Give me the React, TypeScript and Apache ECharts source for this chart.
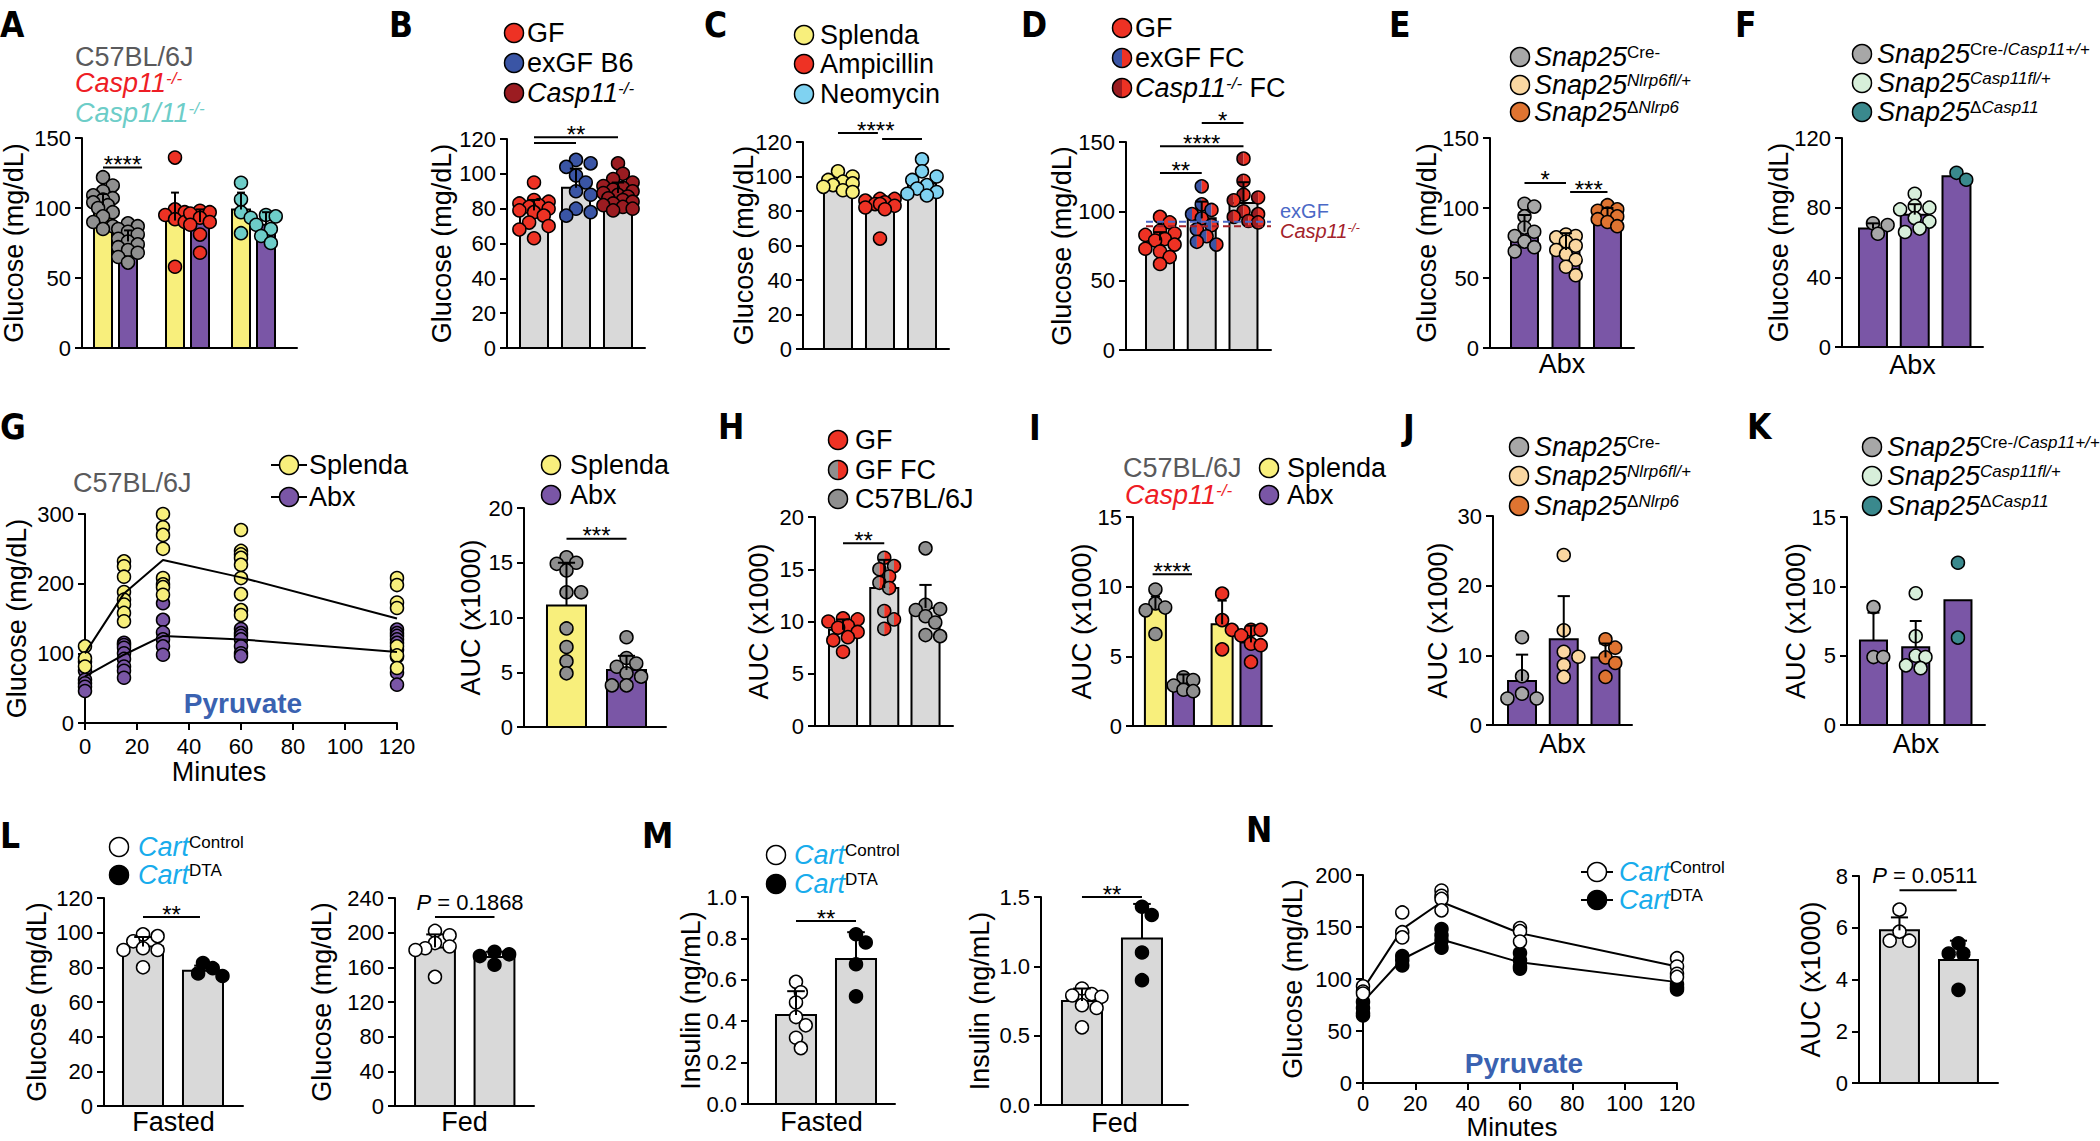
import React, { useEffect, useRef } from "react";
import * as echarts from "echarts";

const FONT = "'Liberation Sans', Arial, Helvetica, sans-serif";
const LETTER_FONT = "'Liberation Sans Narrow', 'DejaVu Sans Condensed', 'Liberation Sans', Arial, sans-serif";

/* ======================= DATA ======================= */
// A
const aLegend = ["C57BL/6J", "{i|Casp11}{si|-/-}", "{i|Casp1/11}{si|-/-}"];
const aMeans = [102, 76, 91, 90, 99, 88];
const aSD = [8, 8, 20, 9, 12, 9];
const aB6Splenda = [122, 116, 112, 109, 107, 106, 104, 102, 100, 97, 94, 90, 87, 85];
const aB6Abx = [89, 87, 85, 83, 81, 78, 76, 74, 72, 70, 68, 65, 61];
const aC11Splenda = [136, 99, 97, 95, 92, 90, 58];
const aC11Abx = [98, 97, 96, 93, 90, 88, 81, 68];
const aC111Splenda = [118, 106, 97, 93, 82];
const aC111Abx = [95, 94, 88, 85, 80, 75];
const aSig = [{ a: 0, b: 1.3, y: 129, t: "****" }];

// B
const bLegend = ["GF", "exGF B6", "{i|Casp11}{si|-/-}"];
const bMeans = [79, 92, 89];
const bSD = [6, 11, 6];
const bGF = [95, 85, 84, 83, 82, 81, 80, 79, 78, 76, 72, 70, 68, 63];
const bExGF = [108, 106, 104, 99, 95, 90, 88, 80, 78, 76];
const bCasp11 = [106, 100, 97, 95, 93, 92, 91, 90, 89, 88, 87, 86, 85, 84, 83, 82, 81, 80, 79];
const bSig = [{ a: 0, b: 2, y: 121, t: "**" }, { a: 0, b: 1, y: 117.7, t: "" }];

// C
const cLegend = ["Splenda", "Ampicillin", "Neomycin"];
const cMeans = [96, 82, 96];
const cSD = [null, null, null];
const cSplenda = [103, 100, 98, 97, 96, 95, 94, 92, 91];
const cAmp = [87, 87, 86, 85, 84, 84, 83, 82, 81, 64];
const cNeo = [110, 103, 100, 98, 95, 93, 91, 90, 89];
const cSig = [{ a: 0, b: 0.95, y: 125.2, t: "****", at: 0.9 }, { a: 1.05, b: 2, y: 121.7, t: "" }];

// D
const dLegend = ["GF", "exGF FC", "{i|Casp11}{si|-/-}{n| FC}"];
const dMeans = [79, 95, 106];
const dSD = [6, 12, 15];
const dGF = [96, 92, 86, 84, 83, 80, 79, 76, 73, 71, 67, 62];
const dExGF = [118, 105, 101, 98, 95, 90, 87, 82, 78, 76];
const dCasp11 = [138, 122, 112, 110, 108, 100, 98, 96, 93, 92];
const dSig = [
  { a: 0, b: 1, y: 127.6, t: "**" },
  { a: 0, b: 2, y: 147, t: "****" },
  { a: 1, b: 2, y: 163.7, t: "*" },
];
const dRefValues = [92.4, 89.3];
const dRefLabels = ["exGF", "{i|Casp11}{si|-/-}"];

// E
const eLegend = ["{i|Snap25}{s|Cre-}", "{i|Snap25}{si|Nlrp6fl/+}", "{i|Snap25}{s|Δ}{si|Nlrp6}"];
const eMeans = [83, 70, 95];
const eSD = [12, 12, 5];
const eCre = [103, 101, 94, 86, 83, 80, 76, 72, 69];
const eHet = [81, 80, 79, 76, 73, 70, 67, 63, 58, 52];
const eKO = [102, 99, 98, 96, 94, 92, 90, 87];
const eSig = [{ a: 0, b: 1, y: 117.9, t: "*" }, { a: 1.1, b: 2, y: 111.4, t: "***" }];

// F
const fLegend = ["{i|Snap25}{s|Cre-/}{si|Casp11+/+}", "{i|Snap25}{si|Casp11fl/+}", "{i|Snap25}{s|Δ}{si|Casp11}"];
const fMeans = [68, 76, 98];
const fSD = [3, 6, null];
const fCre = [71, 70, 65];
const fHet = [88, 81, 80, 79, 74, 72, 68, 66];
const fKO = [100, 96];

// G (pyruvate tolerance, C57BL/6J)
const minutes = [0, 15, 30, 60, 120];
const gLegend = ["Splenda", "Abx"];
const gSplendaMean = [100, 186, 234, 209, 150];
const gAbxMean = [67, 98, 125, 120, 102];
const gSplendaDots = [
  [110, 93, 81],
  [232, 225, 210, 188, 177, 170, 158, 146],
  [300, 281, 270, 250, 208, 199, 195, 184],
  [277, 247, 242, 237, 227, 208, 185, 162, 155],
  [208, 198, 173, 165, 110, 97, 79],
];
const gAbxDots = [
  [88, 75, 62, 57, 52, 46],
  [115, 112, 108, 100, 92, 81, 75, 65],
  [172, 148, 130, 120, 110, 98],
  [135, 129, 125, 120, 110, 100, 96],
  [134, 129, 125, 120, 115, 105, 95, 72, 55],
];
// G AUC
const g2Means = [11.1, 5.2];
const g2SD = [3.9, 1.3];
const g2Splenda = [15.5, 15.0, 14.9, 14.3, 12.3, 12.3, 9.0, 7.3, 6.0, 4.9];
const g2Abx = [8.2, 6.3, 5.8, 5.5, 4.9, 4.6, 3.8, 3.8];
const g2Sig = [{ a: 0, b: 1, y: 17.2, t: "***" }];

// H
const hLegend = ["GF", "GF FC", "C57BL/6J"];
const hMeans = [9.2, 13.2, 11.3];
const hSD = [1.0, 2.7, 2.2];
const hGF = [10.3, 10.2, 10.0, 9.6, 9.4, 9.0, 8.5, 8.2, 7.1];
const hGFFC = [16.1, 15.3, 15.0, 14.3, 13.7, 13.2, 11.0, 10.2, 9.3];
const hB6 = [17.0, 11.6, 11.2, 11.1, 10.5, 9.9, 8.7, 8.6];
const hSig = [{ a: 0, b: 1, y: 17.5, t: "**" }];

// I
const iMeans = [8.4, 3.0, 7.3, 6.0];
const iSD = [0.9, 0.7, 1.7, 1.2];
const iB6Splenda = [9.8, 8.8, 8.5, 8.3, 6.6];
const iB6Abx = [3.5, 3.3, 2.9, 2.6, 2.5];
const iC11Splenda = [9.5, 7.6, 6.9, 5.5];
const iC11Abx = [6.9, 6.9, 6.5, 5.9, 5.8, 4.6];
const iSig = [{ a: -0.1, b: 1.22, y: 10.9, t: "****" }];

// J
const jMeans = [6.3, 12.3, 9.7];
const jSD = [3.8, 6.2, 2.0];
const jCre = [12.6, 7.0, 4.5, 3.8, 3.8];
const jHet = [24.4, 13.6, 10.5, 9.8, 8.6, 6.9];
const jKO = [12.3, 11.1, 9.7, 8.9, 6.9];

// K
const kMeans = [6.1, 5.6, 9.0];
const kSD = [2.0, 1.9, null];
const kCre = [8.5, 4.9, 4.9];
const kHet = [9.5, 6.4, 5.0, 4.9, 4.3, 4.1];
const kKO = [11.7, 6.3];

// L
const cartLegend = ["{c|Cart}{s|Control}", "{c|Cart}{s|DTA}"];
const lFastedMeans = [92, 78];
const lFastedSD = [5.5, 3];
const lFastedCtrl = [99, 98, 95, 91, 90, 90, 80];
const lFastedDTA = [82.5, 79.5, 76.5, 75];
const lFastedSig = [{ a: 0, b: 0.95, y: 109, t: "**" }];
const lFedMeans = [183, 172];
const lFedSD = [15, 6];
const lFedCtrl = [202, 197, 188, 184, 182, 180, 149];
const lFedDTA = [178, 175, 173, 163];
const lFedSig = [{ a: 0, b: 1, y: 218, t: "P = 0.1868", at: 0.59 }];

// M
const mFastedMeans = [0.43, 0.7];
const mFastedSD = [0.115, 0.13];
const mFastedCtrl = [0.59, 0.54, 0.49, 0.42, 0.38, 0.32, 0.27];
const mFastedDTA = [0.82, 0.78, 0.675, 0.52];
const mFastedSig = [{ a: 0, b: 1, y: 0.884, t: "**" }];
const mFedMeans = [0.75, 1.2];
const mFedSD = [0.09, 0.25];
const mFedCtrl = [0.84, 0.8, 0.79, 0.78, 0.72, 0.7, 0.56];
const mFedDTA = [1.43, 1.37, 1.1, 0.9];
const mFedSig = [{ a: 0, b: 1, y: 1.5, t: "**" }];

// N
const nCtrlMean = [90, 148, 174, 144, 112];
const nDTAMean = [78, 119, 138, 116, 97];
const nCtrlDots = [[93, 88, 86], [164, 145, 140], [185, 180, 177, 166], [149, 146, 136], [120, 112, 105, 102]];
const nDTADots = [[78, 72, 67, 65], [122, 118, 113], [148, 142, 137, 130], [125, 118, 112, 110], [95, 92, 90]];
const n2Means = [5.9, 4.75];
const n2SD = [0.5, 0.75];
const n2Ctrl = [6.7, 5.85, 5.5, 5.5];
const n2DTA = [5.4, 5.0, 5.0, 3.6];
const n2Sig = [{ a: 0, b: 0.97, y: 7.45, t: "P = 0.0511", at: 0.43 }];

/* ======================= STYLE ======================= */
const YELLOW = "#f8ef7c";
const PURPLE = "#7a56a6";
const BAR_GRAY = "#d9d9d9";
const DOT_GRAY = "#8f8f8f";
const RED = "#ee3224";
const BLUE = "#3a55a5";
const DARK_RED = "#9b1c21";
const LIGHT_BLUE = "#7fd2f1";
const CYAN = "#6dcdc8";
const SNAP_GRAY = "#a7a7a7";
const PEACH = "#fad7a1";
const ORANGE = "#df7431";
const MINT = "#d7efda";
const TEAL = "#3a898d";
const CART_BLUE = "#18acec";
const PYR_BLUE = "#3a62b1";
const TXT_GRAY = "#5a5a5c";
const CASP_RED = "#ee1d25";
const REF_BLUE = "#4a68c6";
const REF_RED = "#a3222a";
const WHITE = "#ffffff";
const BLACK = "#000000";

const DOT_R = 6.5;
const LEG_R = 9.5;

const barPanels: any[] = [
  { id: "A", box: [82, 138, 215, 210], yMax: 150, yInt: 50, yName: "Glucose (mg/dL)", yGap: 55, xMin: 0, xMax: 8.6,
    xs: [0.84, 1.84, 3.72, 4.72, 6.36, 7.36], bw: 0.72, means: aMeans, sds: aSD,
    fills: [YELLOW, PURPLE, YELLOW, PURPLE, YELLOW, PURPLE],
    dots: [aB6Splenda, aB6Abx, aC11Splenda, aC11Abx, aC111Splenda, aC111Abx],
    dotFills: [DOT_GRAY, DOT_GRAY, RED, RED, CYAN, CYAN], sigs: aSig },
  { id: "B", box: [507, 139, 138, 209], yMax: 120, yInt: 20, yName: "Glucose (mg/dL)", yGap: 52, xMin: 0.357, xMax: 3.643,
    xs: [1, 2, 3], bw: 0.667, means: bMeans, sds: bSD, fills: [BAR_GRAY, BAR_GRAY, BAR_GRAY],
    dots: [bGF, bExGF, bCasp11], dotFills: [RED, BLUE, DARK_RED], sigs: bSig },
  { id: "C", box: [803, 142, 146, 207], yMax: 120, yInt: 20, yName: "Glucose (mg/dL)", yGap: 46, xMin: 0.167, xMax: 3.643,
    xs: [1, 2, 3], bw: 0.667, means: cMeans, sds: cSD, fills: [BAR_GRAY, BAR_GRAY, BAR_GRAY],
    dots: [cSplenda, cAmp, cNeo], dotFills: [YELLOW, RED, LIGHT_BLUE], sigs: cSig },
  { id: "D", box: [1126, 142, 145, 208], yMax: 150, yInt: 50, yName: "Glucose (mg/dL)", yGap: 51, xMin: 0.186, xMax: 3.659,
    xs: [1, 2, 3], bw: 0.67, means: dMeans, sds: dSD, fills: [BAR_GRAY, BAR_GRAY, BAR_GRAY],
    dots: [dGF, dExGF, dCasp11], dotFills: [RED, BLUE, DARK_RED], dotFills2: [null, RED, RED], sigs: dSig },
  { id: "E", box: [1490, 138, 144, 210], yMax: 150, yInt: 50, yName: "Glucose (mg/dL)", yGap: 50, xMin: 0.169, xMax: 3.639,
    xs: [1, 2, 3], bw: 0.65, means: eMeans, sds: eSD, fills: [PURPLE, PURPLE, PURPLE],
    dots: [eCre, eHet, eKO], dotFills: [SNAP_GRAY, PEACH, ORANGE], sigs: eSig, xName: "Abx", xGap: 2 },
  { id: "F", box: [1842, 138, 141, 209], yMax: 120, yInt: 40, yName: "Glucose (mg/dL)", yGap: 50, xMin: 0.258, xMax: 3.635,
    xs: [1, 2, 3], bw: 0.67, means: fMeans, sds: fSD, fills: [PURPLE, PURPLE, PURPLE],
    dots: [fCre, fHet, fKO], dotFills: [SNAP_GRAY, MINT, TEAL], sigs: [], xName: "Abx", xGap: 4 },
  { id: "G2", box: [524, 508, 142, 219], yMax: 20, yInt: 5, yName: "AUC (x1000)", yGap: 40, xMin: 0.292, xMax: 2.658,
    xs: [1, 2], bw: 0.65, means: g2Means, sds: g2SD, fills: [YELLOW, PURPLE],
    dots: [g2Splenda, g2Abx], dotFills: [DOT_GRAY, DOT_GRAY], sigs: g2Sig },
  { id: "H", box: [815, 517, 138, 209], yMax: 20, yInt: 5, yName: "AUC (x1000)", yGap: 43, xMin: 0.321, xMax: 3.666,
    xs: [1, 2, 3], bw: 0.68, means: hMeans, sds: hSD, fills: [BAR_GRAY, BAR_GRAY, BAR_GRAY],
    dots: [hGF, hGFFC, hB6], dotFills: [RED, DOT_GRAY, DOT_GRAY], dotFills2: [null, RED, null], sigs: hSig },
  { id: "I", box: [1133, 517, 139, 209], yMax: 15, yInt: 5, yName: "AUC (x1000)", yGap: 38, xMin: 0, xMax: 4.96,
    xs: [0.8, 1.8, 3.18, 4.21], bw: 0.75, means: iMeans, sds: iSD, fills: [YELLOW, PURPLE, YELLOW, PURPLE],
    dots: [iB6Splenda, iB6Abx, iC11Splenda, iC11Abx], dotFills: [DOT_GRAY, DOT_GRAY, RED, RED], sigs: iSig },
  { id: "J", box: [1493, 516, 139, 209], yMax: 30, yInt: 10, yName: "AUC (x1000)", yGap: 42, xMin: 0.305, xMax: 3.635,
    xs: [1, 2, 3], bw: 0.67, means: jMeans, sds: jSD, fills: [PURPLE, PURPLE, PURPLE],
    dots: [jCre, jHet, jKO], dotFills: [SNAP_GRAY, PEACH, ORANGE], sigs: [], xName: "Abx", xGap: 5 },
  { id: "K", box: [1847, 517, 138, 208], yMax: 15, yInt: 5, yName: "AUC (x1000)", yGap: 38, xMin: 0.373, xMax: 3.64,
    xs: [1, 2, 3], bw: 0.64, means: kMeans, sds: kSD, fills: [PURPLE, PURPLE, PURPLE],
    dots: [kCre, kHet, kKO], dotFills: [SNAP_GRAY, MINT, TEAL], sigs: [], xName: "Abx", xGap: 5 },
  { id: "L1", box: [104, 898, 139, 208], yMax: 120, yInt: 20, yName: "Glucose (mg/dL)", yGap: 54, xMin: 0.35, xMax: 2.667,
    xs: [1, 2], bw: 0.667, means: lFastedMeans, sds: lFastedSD, fills: [BAR_GRAY, BAR_GRAY],
    dots: [lFastedCtrl, lFastedDTA], dotFills: [WHITE, BLACK], sigs: lFastedSig, xName: "Fasted", xGap: 2 },
  { id: "L2", box: [395, 898, 139, 208], yMax: 240, yInt: 40, yName: "Glucose (mg/dL)", yGap: 60, xMin: 0.328, xMax: 2.664,
    xs: [1, 2], bw: 0.67, means: lFedMeans, sds: lFedSD, fills: [BAR_GRAY, BAR_GRAY],
    dots: [lFedCtrl, lFedDTA], dotFills: [WHITE, BLACK], sigs: lFedSig, xName: "Fed", xGap: 2 },
  { id: "M1", box: [748, 897, 147, 207], yMax: 1.0, yInt: 0.2, dec: 1, yName: "Insulin (ng/mL)", yGap: 44, xMin: 0.2, xMax: 2.65,
    xs: [1, 2], bw: 0.667, means: mFastedMeans, sds: mFastedSD, fills: [BAR_GRAY, BAR_GRAY],
    dots: [mFastedCtrl, mFastedDTA], dotFills: [WHITE, BLACK], sigs: mFastedSig, xName: "Fasted", xGap: 4 },
  { id: "M2", box: [1041, 897, 147, 208], yMax: 1.5, yInt: 0.5, dec: 1, yName: "Insulin (ng/mL)", yGap: 48, xMin: 0.317, xMax: 2.767,
    xs: [1, 2], bw: 0.667, means: mFedMeans, sds: mFedSD, fills: [BAR_GRAY, BAR_GRAY],
    dots: [mFedCtrl, mFedDTA], dotFills: [WHITE, BLACK], sigs: mFedSig, xName: "Fed", xGap: 4 },
  { id: "N2", box: [1859, 876, 139, 207], yMax: 8, yInt: 2, yName: "AUC (x1000)", yGap: 35, xMin: 0.314, xMax: 2.67,
    xs: [1, 2], bw: 0.66, means: n2Means, sds: n2SD, fills: [BAR_GRAY, BAR_GRAY],
    dots: [n2Ctrl, n2DTA], dotFills: [WHITE, BLACK], sigs: n2Sig },
];

const linePanels: any[] = [
  { id: "G", box: [85, 514, 312, 209], yMax: 300, yInt: 100, yGap: 55, xGap: 35, lineZ: 6, xNamePad: [0, 44, 0, 0],
    tickMargin: 12, nameSize: 27,
    groups: [
      { mean: gAbxMean, dots: gAbxDots, fill: PURPLE },
      { mean: gSplendaMean, dots: gSplendaDots, fill: YELLOW },
    ] },
  { id: "N", box: [1363, 875, 314, 208], yMax: 200, yInt: 50, yGap: 57, xGap: 31, lineZ: 2, xNamePad: [0, 16, 0, 0],
    tickMargin: 9, nameSize: 26,
    groups: [
      { mean: nDTAMean, dots: nDTADots, fill: BLACK },
      { mean: nCtrlMean, dots: nCtrlDots, fill: WHITE },
    ] },
];

/* ======================= HELPERS ======================= */
const AXIS_LINE = { show: true, onZero: false, lineStyle: { color: "#000", width: 2 } };
const TICK = { show: true, inside: false, length: 7, lineStyle: { color: "#000", width: 2 } };
const NAME_STYLE = { fontSize: 27, color: "#000", fontFamily: FONT };

function richSet(color: string, size = 27, sup = 17) {
  return {
    n: { fontSize: size, fontFamily: FONT, fill: color },
    i: { fontSize: size, fontFamily: FONT, fill: color, fontStyle: "italic" },
    s: { fontSize: sup, fontFamily: FONT, fill: color, verticalAlign: "top" },
    si: { fontSize: sup, fontFamily: FONT, fill: color, fontStyle: "italic", verticalAlign: "top" },
    c: { fontSize: size, fontFamily: FONT, fill: CART_BLUE, fontStyle: "italic" },
    p: { fontSize: 22, fontFamily: FONT, fill: color, fontStyle: "italic" },
    q: { fontSize: 22, fontFamily: FONT, fill: color },
  };
}

function posAt(xs: number[], f: number) {
  const i = Math.max(0, Math.min(Math.floor(f), xs.length - 2));
  return xs[i] + (f - i) * (xs[i + 1] - xs[i]);
}

function dotGfx(cx: number, cy: number, r: number, fill: string, fill2?: string | null) {
  if (fill2) {
    return [
      { type: "sector", shape: { cx, cy, r, r0: 0, startAngle: Math.PI / 2, endAngle: (3 * Math.PI) / 2 }, style: { fill } },
      { type: "sector", shape: { cx, cy, r, r0: 0, startAngle: -Math.PI / 2, endAngle: Math.PI / 2 }, style: { fill: fill2 } },
      { type: "circle", shape: { cx, cy, r }, style: { fill: "none", stroke: "#000", lineWidth: 1.5 } },
    ];
  }
  return [{ type: "circle", shape: { cx, cy, r }, style: { fill, stroke: "#000", lineWidth: 1.5 } }];
}

function swarm(pts: number[][], r: number, maxOff: number) {
  const placed: number[][] = [];
  const minD = r * 1.7;
  const step = r * 0.75;
  for (const p of pts) {
    let best: number[] = [p[0], p[1]];
    let bestScore = -Infinity;
    for (let k = 0; k < 16; k++) {
      const off = k === 0 ? 0 : (k % 2 ? 1 : -1) * Math.ceil(k / 2) * step;
      if (Math.abs(off) > maxOff + 0.01) continue;
      const cx = p[0] + off;
      let dmin = Infinity;
      for (const q of placed) dmin = Math.min(dmin, Math.hypot(q[0] - cx, q[1] - p[1]));
      if (dmin >= minD) { best = [cx, p[1]]; bestScore = Infinity; break; }
      if (dmin > bestScore + 0.5) { bestScore = dmin; best = [cx, p[1]]; }
    }
    placed.push(best);
  }
  return placed;
}

function addGrid(opt: any, box: number[]) {
  const gi = opt.grid.length;
  opt.grid.push({ left: box[0], top: box[1], width: box[2], height: box[3], containLabel: false, outerBoundsMode: "none" });
  return gi;
}

function yAxisOf(gi: number, max: number, interval: number, name: string, gap: number, dec?: number) {
  return {
    type: "value", gridIndex: gi, min: 0, max, interval,
    name, nameLocation: "middle", nameRotate: 90, nameGap: gap, nameMoveOverlap: false, nameTextStyle: NAME_STYLE,
    axisLine: AXIS_LINE, axisTick: TICK,
    axisLabel: { show: true, fontSize: 22, color: "#000", fontFamily: FONT, margin: 11,
      formatter: (v: number) => (dec ? v.toFixed(dec) : String(Math.round(v * 1000) / 1000)) },
    splitLine: { show: false },
  };
}

function addBarPanel(opt: any, p: any) {
  const gi = addGrid(opt, p.box);
  p.gi = gi;
  opt.xAxis.push({
    type: "value", gridIndex: gi, min: p.xMin, max: p.xMax,
    axisLine: AXIS_LINE, axisTick: { show: false }, axisLabel: { show: false }, splitLine: { show: false },
    name: p.xName || "", nameLocation: "middle", nameGap: p.xGap || 0, nameMoveOverlap: false, nameTextStyle: NAME_STYLE,
  });
  opt.yAxis.push(yAxisOf(gi, p.yMax, p.yInt, p.yName, p.yGap, p.dec));
  const bw = p.bw;
  // bars
  opt.series.push({
    type: "custom", xAxisIndex: gi, yAxisIndex: gi, silent: true, z: 2,
    data: p.xs.map((x: number, k: number) => [x, p.means[k]]),
    renderItem: (params: any, api: any) => {
      const k = params.dataIndex;
      const x = api.value(0);
      const m = api.value(1);
      const tl = api.coord([x - bw / 2, m]);
      const br = api.coord([x + bw / 2, 0]);
      return { type: "rect", shape: { x: tl[0], y: tl[1], width: br[0] - tl[0], height: br[1] - tl[1] },
        style: { fill: p.fills[k], stroke: "#000", lineWidth: 2 } };
    },
  });
  // dots
  p.dots.forEach((vals: number[], k: number) => {
    const x = p.xs[k];
    const fill = p.dotFills[k];
    const fill2 = p.dotFills2 ? p.dotFills2[k] : null;
    opt.series.push({
      type: "custom", xAxisIndex: gi, yAxisIndex: gi, silent: true, z: 3,
      data: vals.map((v) => [x, v]),
      renderItem: (params: any, api: any) => {
        const maxOff = Math.max(0, api.size([bw / 2, 0])[0] + 1);
        const pos = swarm(vals.map((v) => api.coord([x, v])), DOT_R, maxOff);
        const q = pos[params.dataIndex];
        return { type: "group", children: dotGfx(q[0], q[1], DOT_R, fill, fill2) };
      },
    });
  });
  // error bars (mean + SD)
  const errs: number[][] = [];
  p.xs.forEach((x: number, k: number) => { if (p.sds[k] != null) errs.push([x, p.means[k], p.sds[k]]); });
  if (errs.length) {
    opt.series.push({
      type: "custom", xAxisIndex: gi, yAxisIndex: gi, silent: true, z: 4, data: errs,
      renderItem: (params: any, api: any) => {
        const x = api.value(0), m = api.value(1), s = api.value(2);
        const a = api.coord([x, m]);
        const b = api.coord([x, m + s]);
        const hw = api.size([bw * 0.22, 0])[0];
        return { type: "group", children: [
          { type: "line", shape: { x1: a[0], y1: a[1], x2: b[0], y2: b[1] }, style: { stroke: "#000", lineWidth: 2 } },
          { type: "line", shape: { x1: b[0] - hw, y1: b[1], x2: b[0] + hw, y2: b[1] }, style: { stroke: "#000", lineWidth: 2 } },
        ] };
      },
    });
  }
  // significance brackets
  if (p.sigs.length) {
    opt.series.push({
      type: "custom", xAxisIndex: gi, yAxisIndex: gi, silent: true, z: 5,
      data: p.sigs.map((s: any) => [posAt(p.xs, s.a), posAt(p.xs, s.b), s.y]),
      renderItem: (params: any, api: any) => {
        const s = p.sigs[params.dataIndex];
        const a = api.coord([posAt(p.xs, s.a), s.y]);
        const b = api.coord([posAt(p.xs, s.b), s.y]);
        const children: any[] = [
          { type: "line", shape: { x1: a[0], y1: a[1], x2: b[0], y2: b[1] }, style: { stroke: "#000", lineWidth: 2 } },
        ];
        if (s.t) {
          const isP = s.t.charAt(0) === "P";
          const tx = s.at != null ? api.coord([posAt(p.xs, s.at), s.y])[0] : (a[0] + b[0]) / 2;
          children.push({
            type: "text",
            style: {
              x: tx, y: a[1] + (isP ? -15 : -3),
              text: isP ? "{p|P}{q|" + s.t.slice(1) + "}" : s.t,
              fill: "#000", fontSize: isP ? 22 : 24, fontFamily: FONT,
              align: "center", verticalAlign: "middle", rich: richSet("#000"),
            },
          });
        }
        return { type: "group", children };
      },
    });
  }
  return gi;
}

function addLinePanel(opt: any, p: any) {
  const gi = addGrid(opt, p.box);
  opt.xAxis.push({
    type: "value", gridIndex: gi, min: 0, max: 120, interval: 20,
    name: "Minutes", nameLocation: "middle", nameGap: p.xGap, nameMoveOverlap: false,
    nameTextStyle: { ...NAME_STYLE, fontSize: p.nameSize, padding: p.xNamePad },
    axisLine: AXIS_LINE, axisTick: TICK,
    axisLabel: { fontSize: 22, color: "#000", fontFamily: FONT, margin: p.tickMargin }, splitLine: { show: false },
  });
  opt.yAxis.push(yAxisOf(gi, p.yMax, p.yInt, "Glucose (mg/dL)", p.yGap));
  p.groups.forEach((g: any) => {
    const pts: number[][] = [];
    minutes.forEach((t, k) => g.dots[k].forEach((v: number) => pts.push([t, v])));
    opt.series.push({
      type: "scatter", xAxisIndex: gi, yAxisIndex: gi, silent: true, z: 3, symbol: "circle", symbolSize: DOT_R * 2,
      itemStyle: { color: g.fill, borderColor: "#000", borderWidth: 1.5, opacity: 1 }, data: pts,
    });
    opt.series.push({
      type: "line", xAxisIndex: gi, yAxisIndex: gi, silent: true, z: p.lineZ, symbol: "none",
      lineStyle: { color: "#000", width: 2 }, data: minutes.map((t, k) => [t, g.mean[k]]),
    });
  });
  return gi;
}

function gText(x: number, y: number, text: string, o: any = {}) {
  const color = o.fill || "#000";
  return {
    type: "text", x, y, silent: true, z: 10,
    style: {
      text, fill: color, fontSize: o.size || 27, fontFamily: o.family || FONT,
      fontWeight: o.bold ? "bold" : "normal", fontStyle: o.italic ? "italic" : "normal",
      align: o.align || "left", verticalAlign: "middle",
      rich: o.rich || richSet(color, o.size || 27, o.sup || 17),
    },
  };
}

function legendDots(els: any[], cx: number, ys: number[], fills: string[], fills2?: (string | null)[]) {
  ys.forEach((y, k) => {
    dotGfx(cx, y, LEG_R, fills[k], fills2 ? fills2[k] : null).forEach((e: any) => els.push({ ...e, silent: true, z: 10 }));
  });
}

function legendTexts(els: any[], x: number, ys: number[], labels: string[], colors?: string[]) {
  ys.forEach((y, k) => els.push(gText(x, y, labels[k], { fill: colors ? colors[k] : "#000" })));
}

function lineLegend(els: any[], x1: number, x2: number, ys: number[], fills: string[]) {
  ys.forEach((y, k) => {
    els.push({ type: "line", silent: true, z: 10, shape: { x1, y1: y, x2, y2: y }, style: { stroke: "#000", lineWidth: 2 } });
    dotGfx((x1 + x2) / 2, y, LEG_R, fills[k]).forEach((e: any) => els.push({ ...e, silent: true, z: 11 }));
  });
}

function buildOption() {
  const opt: any = {
    animation: false, backgroundColor: "#ffffff", textStyle: { fontFamily: FONT },
    grid: [], xAxis: [], yAxis: [], series: [], graphic: { elements: [] },
  };
  barPanels.forEach((p) => addBarPanel(opt, p));
  linePanels.forEach((p) => addLinePanel(opt, p));

  // D dashed reference lines (exGF / Casp11-/- means)
  const D = barPanels.find((p) => p.id === "D");
  const refColors = [REF_BLUE, REF_RED];
  opt.series.push({
    type: "custom", xAxisIndex: D.gi, yAxisIndex: D.gi, silent: true, z: 4,
    data: dRefValues.map((v) => [D.xs[0] - D.bw / 2, v]),
    renderItem: (params: any, api: any) => {
      const k = params.dataIndex;
      const a = api.coord([api.value(0), api.value(1)]);
      const b = api.coord([D.xMax, api.value(1)]);
      return { type: "group", children: [
        { type: "line", shape: { x1: a[0], y1: a[1], x2: b[0], y2: b[1] }, style: { stroke: refColors[k], lineWidth: 2, lineDash: [7, 4] } },
        { type: "text", style: { x: b[0] + 9, y: a[1] + (k === 0 ? -11 : 5), text: dRefLabels[k], fill: refColors[k],
          fontSize: 20, fontFamily: FONT, align: "left", verticalAlign: "middle", rich: richSet(refColors[k], 20, 13) } },
      ] };
    },
  });

  const els = opt.graphic.elements;
  // panel letters
  const letters: any[] = [
    ["A", 0, 25], ["B", 389, 25], ["C", 704, 25], ["D", 1021, 25], ["E", 1389, 25], ["F", 1735, 25],
    ["G", 0, 427], ["H", 718, 427], ["I", 1029, 428], ["J", 1403, 428], ["K", 1747, 427],
    ["L", 0, 836], ["M", 642, 836], ["N", 1246, 830],
  ];
  letters.forEach(([t, x, y]) => els.push(gText(x, y, t, { size: 35, bold: true, family: LETTER_FONT })));

  // A legend (coloured text)
  legendTexts(els, 75, [57, 83, 113], aLegend, [TXT_GRAY, CASP_RED, CYAN]);
  // B
  legendDots(els, 514, [33, 63, 93], [RED, BLUE, DARK_RED]);
  legendTexts(els, 527, [33, 63, 93], bLegend);
  // C
  legendDots(els, 804, [35, 64, 94], [YELLOW, RED, LIGHT_BLUE]);
  legendTexts(els, 820, [35, 64, 94], cLegend);
  // D
  legendDots(els, 1122, [28, 58, 88], [RED, BLUE, DARK_RED], [null, RED, RED]);
  legendTexts(els, 1135, [28, 58, 88], dLegend);
  // E
  legendDots(els, 1520, [57, 85, 112], [SNAP_GRAY, PEACH, ORANGE]);
  legendTexts(els, 1534, [57, 85, 112], eLegend);
  // F
  legendDots(els, 1862, [54, 83, 112], [SNAP_GRAY, MINT, TEAL]);
  legendTexts(els, 1877, [54, 83, 112], fLegend);

  // G
  els.push(gText(73, 483, "C57BL/6J", { fill: TXT_GRAY }));
  lineLegend(els, 271, 307, [465, 497], [YELLOW, PURPLE]);
  legendTexts(els, 309, [465, 497], gLegend);
  els.push(gText(243, 703, "Pyruvate", { fill: PYR_BLUE, bold: true, align: "center", size: 28 }));
  // G AUC
  legendDots(els, 551, [465, 495], [YELLOW, PURPLE]);
  legendTexts(els, 570, [465, 495], gLegend);
  // H
  legendDots(els, 838, [440, 470, 499], [RED, DOT_GRAY, DOT_GRAY], [null, RED, null]);
  legendTexts(els, 855, [440, 470, 499], hLegend);
  // I
  els.push(gText(1123, 468, "C57BL/6J", { fill: TXT_GRAY }));
  els.push(gText(1125, 495, "{i|Casp11}{si|-/-}", { fill: CASP_RED }));
  legendDots(els, 1269, [468, 495], [YELLOW, PURPLE]);
  legendTexts(els, 1287, [468, 495], gLegend);
  // J
  legendDots(els, 1519, [447, 476, 506], [SNAP_GRAY, PEACH, ORANGE]);
  legendTexts(els, 1534, [447, 476, 506], eLegend);
  // K
  legendDots(els, 1872, [447, 476, 506], [SNAP_GRAY, MINT, TEAL]);
  legendTexts(els, 1887, [447, 476, 506], fLegend);
  // L
  legendDots(els, 119, [847, 875], [WHITE, BLACK]);
  legendTexts(els, 138, [847, 875], cartLegend);
  // M
  legendDots(els, 776, [855, 884], [WHITE, BLACK]);
  legendTexts(els, 794, [855, 884], cartLegend);
  // N
  lineLegend(els, 1581, 1613, [872, 900], [WHITE, BLACK]);
  legendTexts(els, 1619, [872, 900], cartLegend);
  els.push(gText(1524, 1063, "Pyruvate", { fill: PYR_BLUE, bold: true, align: "center", size: 28 }));

  return opt;
}

export default function App() {
  const ref = useRef<HTMLDivElement>(null);
  useEffect(() => {
    document.body.style.margin = "0";
    const chart = echarts.init(ref.current as HTMLDivElement, undefined, { renderer: "svg" });
    chart.setOption(buildOption());
    return () => chart.dispose();
  }, []);
  return <div ref={ref} style={{ width: 2100, height: 1141, background: "#ffffff" }} />;
}
